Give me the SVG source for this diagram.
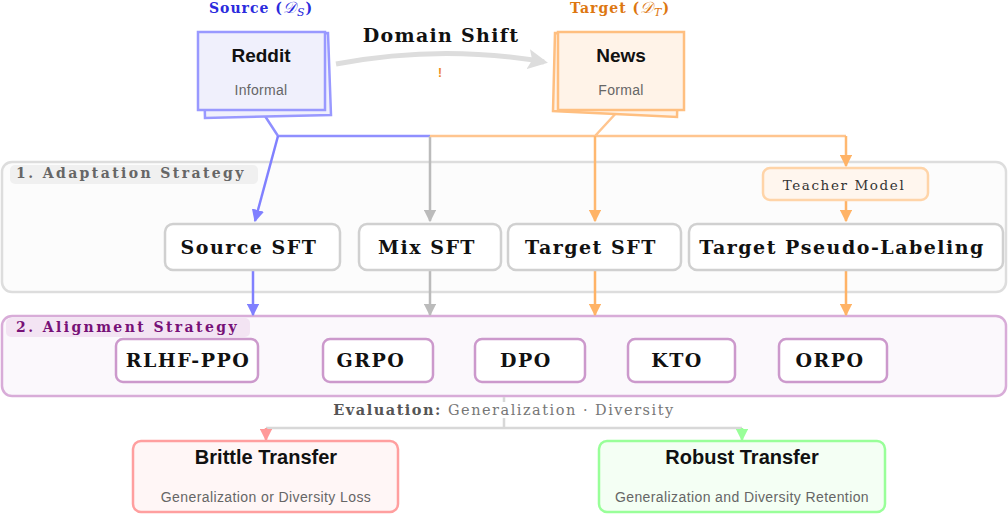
<svg xmlns="http://www.w3.org/2000/svg" width="1008" height="514" viewBox="0 0 1008 514">
<defs>
<style>
.serifb{font-family:"DejaVu Serif","Liberation Serif",serif;font-weight:bold;}
.serif{font-family:"DejaVu Serif","Liberation Serif",serif;}
.sans{font-family:"Liberation Sans","DejaVu Sans",sans-serif;}
.node{fill:#ffffff;stroke:#d0d0d0;stroke-width:2.5;}
.alg{fill:#ffffff;stroke:#cc99cc;stroke-width:2.5;}
.btxt{font-size:19px;fill:#111;text-anchor:middle;letter-spacing:1.5px;}
</style>
<marker id="aB" viewBox="0 0 10 10" refX="9" refY="5" markerWidth="5" markerHeight="5" orient="auto"><path d="M0,0 L10,5 L0,10 z" fill="#8080ff"/></marker>
<marker id="aG" viewBox="0 0 10 10" refX="9" refY="5" markerWidth="5" markerHeight="5" orient="auto"><path d="M0,0 L10,5 L0,10 z" fill="#bbbbbb"/></marker>
<marker id="aO" viewBox="0 0 10 10" refX="9" refY="5" markerWidth="5" markerHeight="5" orient="auto"><path d="M0,0 L10,5 L0,10 z" fill="#ffb366"/></marker>
<marker id="aR" viewBox="0 0 10 10" refX="9" refY="5" markerWidth="5" markerHeight="5" orient="auto"><path d="M0,0 L10,5 L0,10 z" fill="#ff9999"/></marker>
<marker id="aGr" viewBox="0 0 10 10" refX="9" refY="5" markerWidth="5" markerHeight="5" orient="auto"><path d="M0,0 L10,5 L0,10 z" fill="#99ff99"/></marker>
<marker id="aD" viewBox="0 0 10 10" refX="8" refY="5" markerWidth="4" markerHeight="4" orient="auto"><path d="M0,0 L10,5 L0,10 L2,5 z" fill="#dddddd"/></marker>
</defs>
<rect width="1008" height="514" fill="#ffffff"/>

<g id="adaptation-frame">
<rect x="2" y="162" width="1004" height="130" rx="10" fill="#fcfcfc" stroke="#dddddd" stroke-width="2.5"/>
<rect x="10" y="165" width="248" height="19" rx="5" fill="#f0f0f0"/>
<text x="16" y="178" class="serifb" font-size="14" fill="#666" letter-spacing="2.4">1. Adaptation Strategy</text>
</g>
<g id="alignment-frame">
<rect x="2" y="316" width="1004" height="80" rx="10" fill="#fbf8fc" stroke="#d8acd8" stroke-width="2.5"/>
<rect x="6" y="318" width="244" height="19" rx="5" fill="#f3e4f3"/>
<text x="16" y="332" class="serifb" font-size="14" fill="#771177" letter-spacing="2.4">2. Alignment Strategy</text>
</g>

<g id="connectors" fill="none" stroke-width="2.5">
<path d="M336,64 Q442,44 544,62" stroke="#dddddd" stroke-width="5" marker-end="url(#aD)"/>
<path d="M263,113 L278,136 L430,136" stroke="#8f8fff"/>
<path d="M278,136 L255,221" stroke="#8080ff" marker-end="url(#aB)"/>
<path d="M430,136 L430,221" stroke="#bbbbbb" marker-end="url(#aG)"/>
<path d="M618,111 L595,136 M430,136 L846,136" stroke="#ffc58f"/>
<path d="M595,136 L595,221" stroke="#ffb870" marker-end="url(#aO)"/>
<path d="M846,136 L846,166" stroke="#ffb870" marker-end="url(#aO)"/>
<path d="M846,200 L846,221" stroke="#ffb366" marker-end="url(#aO)"/>
<path d="M253,271 L253,315" stroke="#8080ff" marker-end="url(#aB)"/>
<path d="M430,271 L430,315" stroke="#bbbbbb" marker-end="url(#aG)"/>
<path d="M595,271 L595,315" stroke="#ffb366" marker-end="url(#aO)"/>
<path d="M846,271 L846,315" stroke="#ffb366" marker-end="url(#aO)"/>
<path d="M504,397 L504,402 M504,418 L504,428 M266,428 L742,428" stroke="#d8d8d8"/>
<path d="M266,428 L266,440" stroke="#ff9999" marker-end="url(#aR)"/>
<path d="M742,428 L742,440" stroke="#99ff99" marker-end="url(#aGr)"/>
</g>

<g id="domain-shift">
<text x="441" y="42" class="serifb" font-size="19" fill="#111" text-anchor="middle" letter-spacing="1.3">Domain Shift</text>
<text x="440" y="77" class="sans" font-size="12" font-weight="bold" fill="#ee8822" text-anchor="middle">!</text>
</g>

<g id="source">
<text x="261" y="13" class="serifb" font-size="14" fill="#2b2bdd" text-anchor="middle" letter-spacing="1">Source (<tspan font-style="italic" font-weight="normal" font-size="16">𝒟</tspan><tspan font-style="italic" font-weight="normal" font-size="11" dy="3">S</tspan><tspan dy="-3">)</tspan></text>
<polygon points="203,37 328,33 331,115 205,118" fill="#f0f0fc" stroke="#9999ff" stroke-width="2.5"/>
<rect x="198" y="32" width="127" height="78" fill="#f0f0fc" stroke="#9999ff" stroke-width="2.5"/>
<text x="261" y="62" class="sans" font-size="19" font-weight="bold" fill="#111" text-anchor="middle">Reddit</text>
<text x="261" y="95" class="sans" font-size="14" fill="#666" text-anchor="middle" letter-spacing="0.3">Informal</text>
</g>

<g id="target">
<text x="620" y="13" class="serifb" font-size="14" fill="#dd7711" text-anchor="middle" letter-spacing="1">Target (<tspan font-style="italic" font-weight="normal" font-size="16">𝒟</tspan><tspan font-style="italic" font-weight="normal" font-size="11" dy="3">T</tspan><tspan dy="-3">)</tspan></text>
<polygon points="555,33 679,34 677,117 553,111" fill="#fff3e8" stroke="#ffbf80" stroke-width="2.5"/>
<rect x="558" y="32" width="126" height="78" fill="#fff3e8" stroke="#ffbf80" stroke-width="2.5"/>
<text x="621" y="62" class="sans" font-size="19" font-weight="bold" fill="#111" text-anchor="middle">News</text>
<text x="621" y="95" class="sans" font-size="14" fill="#666" text-anchor="middle" letter-spacing="0.3">Formal</text>
</g>

<g id="teacher-model">
<rect x="763" y="168" width="165" height="32" rx="7" fill="#fff6ee" stroke="#ffd4a8" stroke-width="2.5"/>
<text x="844" y="190" class="serif" font-size="13.5" fill="#333" text-anchor="middle" letter-spacing="1.6">Teacher Model</text>
</g>

<g id="source-sft"><rect class="node" x="165" y="224" width="175" height="46" rx="8"/><text class="serifb btxt" x="249" y="254">Source SFT</text></g>
<g id="mix-sft"><rect class="node" x="359" y="224" width="142" height="46" rx="8"/><text class="serifb btxt" x="427" y="254">Mix SFT</text></g>
<g id="target-sft"><rect class="node" x="508" y="224" width="173" height="46" rx="8"/><text class="serifb btxt" x="591" y="254">Target SFT</text></g>
<g id="target-pseudo"><rect class="node" x="689" y="224" width="314" height="46" rx="8"/><text class="serifb btxt" x="842" y="254">Target Pseudo-Labeling</text></g>

<g id="rlhf-ppo"><rect class="alg" x="116" y="339" width="142" height="43" rx="7"/><text class="serifb btxt" x="188" y="367">RLHF-PPO</text></g>
<g id="grpo"><rect class="alg" x="323" y="339" width="110" height="43" rx="7"/><text class="serifb btxt" x="371" y="367">GRPO</text></g>
<g id="dpo"><rect class="alg" x="475" y="339" width="110" height="43" rx="7"/><text class="serifb btxt" x="526" y="367">DPO</text></g>
<g id="kto"><rect class="alg" x="628" y="339" width="107" height="43" rx="7"/><text class="serifb btxt" x="677" y="367">KTO</text></g>
<g id="orpo"><rect class="alg" x="779" y="339" width="108" height="43" rx="7"/><text class="serifb btxt" x="830" y="367">ORPO</text></g>

<g id="evaluation">
<text x="504" y="415" class="serif" font-size="14.5" fill="#777" text-anchor="middle" letter-spacing="1.5"><tspan font-weight="bold" fill="#555">Evaluation:</tspan> Generalization · Diversity</text>
</g>

<g id="brittle">
<rect x="133" y="441" width="265" height="71" rx="8" fill="#fff6f6" stroke="#ff9f9f" stroke-width="2.5"/>
<text x="266" y="464" class="sans" font-size="20" font-weight="bold" fill="#111" text-anchor="middle">Brittle Transfer</text>
<text x="266" y="502" class="sans" font-size="14" fill="#666" text-anchor="middle" letter-spacing="0.4">Generalization or Diversity Loss</text>
</g>
<g id="robust">
<rect x="599" y="441" width="286" height="71" rx="8" fill="#f4fff4" stroke="#99ff99" stroke-width="2.5"/>
<text x="742" y="464" class="sans" font-size="20" font-weight="bold" fill="#111" text-anchor="middle">Robust Transfer</text>
<text x="742" y="502" class="sans" font-size="14" fill="#666" text-anchor="middle" letter-spacing="0.4">Generalization and Diversity Retention</text>
</g>
</svg>
